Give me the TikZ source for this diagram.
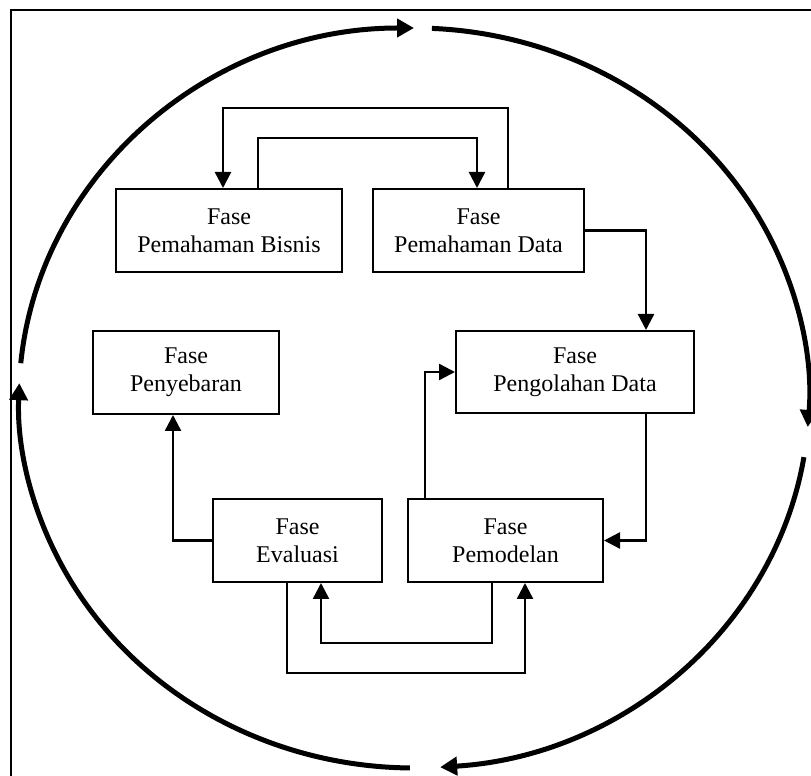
\documentclass[tikz,border=0pt]{standalone}
\usepackage{fontspec}
\setmainfont{Liberation Serif}
\usetikzlibrary{arrows.meta}
\begin{document}
\begin{tikzpicture}[x=1pt,y=1pt,
  box/.style={draw, line width=2pt, align=center, inner sep=0pt, font=\fontsize{24}{28}\selectfont},
  arr/.style={line width=2.4pt, -{Triangle[length=16pt,width=16pt]}},
  circ/.style={line width=5pt, -{Triangle[length=17pt,width=18pt]}}]
\useasboundingbox (0,0) rectangle (811,776);
% frame (right and bottom sides lie outside the picture)
\coordinate (f1) at (11,-10);
\coordinate (f2) at (11,766);
\coordinate (f3) at (830,766);
\draw[line width=2.5pt] (f1) -- (f2) -- (f3);
% boxes
\node[box, minimum width=226pt, minimum height=83pt] (bisnis) at (229,545.5) {Fase\\Pemahaman Bisnis};
\node[box, minimum width=211pt, minimum height=83pt] (data) at (478.5,545.5) {Fase\\Pemahaman Data};
\node[box, minimum width=238pt, minimum height=82pt] (olah) at (575,404) {Fase\\Pengolahan Data};
\node[box, minimum width=186pt, minimum height=83pt] (sebar) at (186,403.5) {Fase\\Penyebaran};
\node[box, minimum width=169pt, minimum height=83pt] (eval) at (297.5,235.5) {Fase\\Evaluasi};
\node[box, minimum width=195pt, minimum height=83pt] (model) at (505.5,235.5) {Fase\\Pemodelan};
% connectors
\coordinate (p1) at (508,668);
\coordinate (p2) at (223,668);
\draw[arr] (data.north -| p1) -- (p1) -- (p2) -- (bisnis.north -| p2);
\coordinate (q1) at (258,638);
\coordinate (q2) at (477,638);
\draw[arr] (bisnis.north -| q1) -- (q1) -- (q2) -- (data.north -| q2);
\draw[arr] (data.east) -| ([xshift=71pt]olah.north);
\draw[arr] ([xshift=71pt]olah.south) |- (model.east);
\draw[arr] ([xshift=-80.5pt]model.north) |- (olah.west);
\draw[arr] (eval.west) -| ([xshift=-13pt]sebar.south);
\draw[arr] ([xshift=-13.5pt]model.south) -- ++(0,-60) -| ([xshift=23.5pt]eval.south);
\draw[arr] ([xshift=-10.5pt]eval.south) -- ++(0,-90) -| ([xshift=19.5pt]model.south);
% big cycle
\coordinate (O) at (414,378);
\draw[circ] ([shift={(174.6:395 and 370)}]O) arc[start angle=174.6, end angle=90, x radius=395, y radius=370];
\draw[circ] ([shift={(87.4:395 and 370)}]O) arc[start angle=87.4, end angle=-4.5, x radius=395, y radius=370];
\draw[circ] ([shift={(-9.2:395 and 370)}]O) arc[start angle=-9.2, end angle=-86.2, x radius=395, y radius=370];
\draw[circ] ([shift={(-90.6:395 and 370)}]O) arc[start angle=-90.6, end angle=-182.3, x radius=395, y radius=370];
\end{tikzpicture}
\end{document}
